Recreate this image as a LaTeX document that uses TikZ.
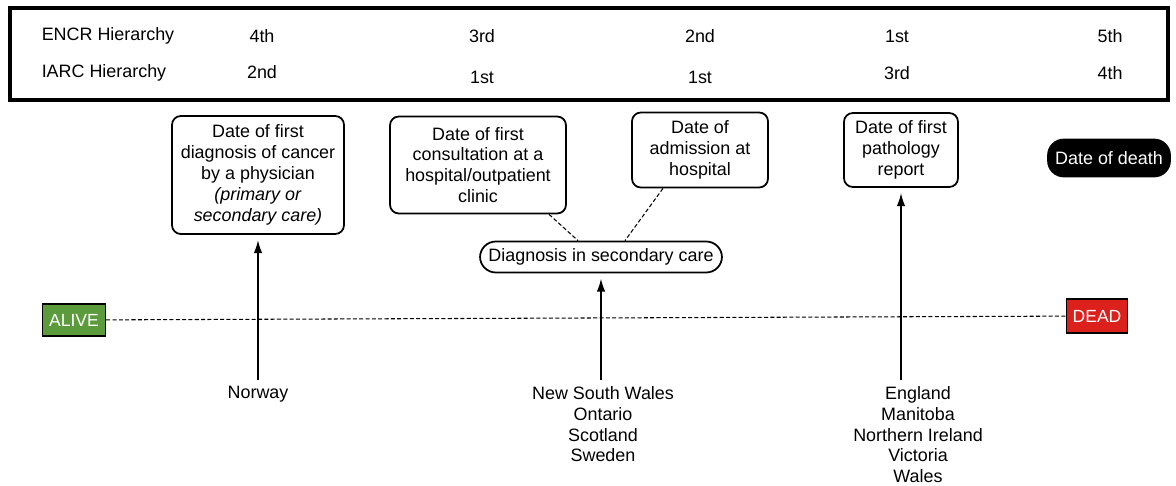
\documentclass[tikz,border=0pt]{standalone}
\usepackage{fontspec}
\setmainfont{Liberation Sans}
\usepackage{xcolor}
\usetikzlibrary{arrows.meta,positioning}
\definecolor{alivegreen}{RGB}{92,155,60}
\definecolor{deadred}{RGB}{220,32,28}

\begin{document}
\begin{tikzpicture}[
			x=0.02cm, y=-0.02cm,
			every node/.style={font=\fontsize{10.2}{11.9}\selectfont},
			box/.style={draw,line width=1pt,rounded corners=5pt,align=center,inner sep=2pt},
			pill/.style={draw,line width=1pt,rounded corners=9pt,align=center,inner sep=2pt},
			state/.style={draw,line width=0.8pt,text=white,font=\fontsize{10}{11}\selectfont,inner sep=2pt},
			place/.style={align=center,anchor=north},
			arrow/.style={-{Latex[length=2.6mm,width=1.7mm]},thick,shorten >=3pt},
			link/.style={dash pattern=on 2.3pt off 1.3pt,semithick}
			]
			\useasboundingbox (0,0) rectangle (1176,486);
			% hierarchy table
			\draw[line width=1.8pt] (10,8) rectangle (1168,100);
			\node (encr) at (108,36) {ENCR Hierarchy};
			\node (iarc) at (104,73) {IARC Hierarchy};
			\node (e1) at (262,36) {4th};
			\node (e2) at (482,36) {3rd};
			\node (e3) at (700,36) {2nd};
			\node (e4) at (897,36) {1st};
			\node (e5) at (1110,36) {5th};
			\node (i1) at (262,72) {2nd};
			\node (i2) at (482,77) {1st};
			\node (i3) at (700,77) {1st};
			\node (i4) at (897,73) {3rd};
			\node (i5) at (1110,73) {4th};
			% event boxes
			\node[box,minimum width=3.44cm,minimum height=2.36cm] (phys) at (258,175)
				{Date of first\\diagnosis of cancer\\by a physician\\\textit{(primary or}\\\textit{secondary care)}};
			\node[box,minimum width=3.52cm,minimum height=1.94cm] (cons) at (478,165)
				{Date of first\\consultation at a\\hospital/outpatient\\clinic};
			\node[box,minimum width=2.72cm,minimum height=1.5cm] (adm) at (700,150)
				{Date of\\admission at\\hospital};
			\node[box,minimum width=2.28cm,minimum height=1.48cm] (path) at (901,150)
				{Date of first\\pathology\\report};
			\node[pill,fill=black,text=white,minimum width=2.44cm,minimum height=0.74cm] (death) at (1109,158) {Date of death};
			\node[pill,minimum width=4.84cm,minimum height=0.62cm] (sec) at (601,257) {Diagnosis in secondary care};
			\draw[link] ([xshift=1.42cm]cons.south) -- ([xshift=-0.46cm]sec.north);
			\draw[link] ([xshift=-0.74cm]adm.south) -- ([xshift=0.48cm]sec.north);
			% life line
			\node[state,fill=alivegreen,minimum width=1.26cm,minimum height=0.64cm] (alive) at (74,320) {ALIVE};
			\node[state,fill=deadred,minimum width=1.22cm,minimum height=0.68cm] (dead) at (1097,316) {DEAD};
			\draw[link] (alive) -- (dead);
			% registries
			\node[place] (nor) at (258,380) {Norway};
			\node[place] (nsw) at (603,380) {New South Wales\\Ontario\\Scotland\\Sweden};
			\node[place] (eng) at (918,380) {England\\Manitoba\\Northern Ireland\\Victoria\\Wales};
			\draw[arrow] (nor.north) -- (phys.south);
			\draw[arrow] (nsw.north -| sec.south) -- (sec.south);
			\draw[arrow] (nsw.north -| path.south) -- (path.south);
		\end{tikzpicture}
\end{document}
